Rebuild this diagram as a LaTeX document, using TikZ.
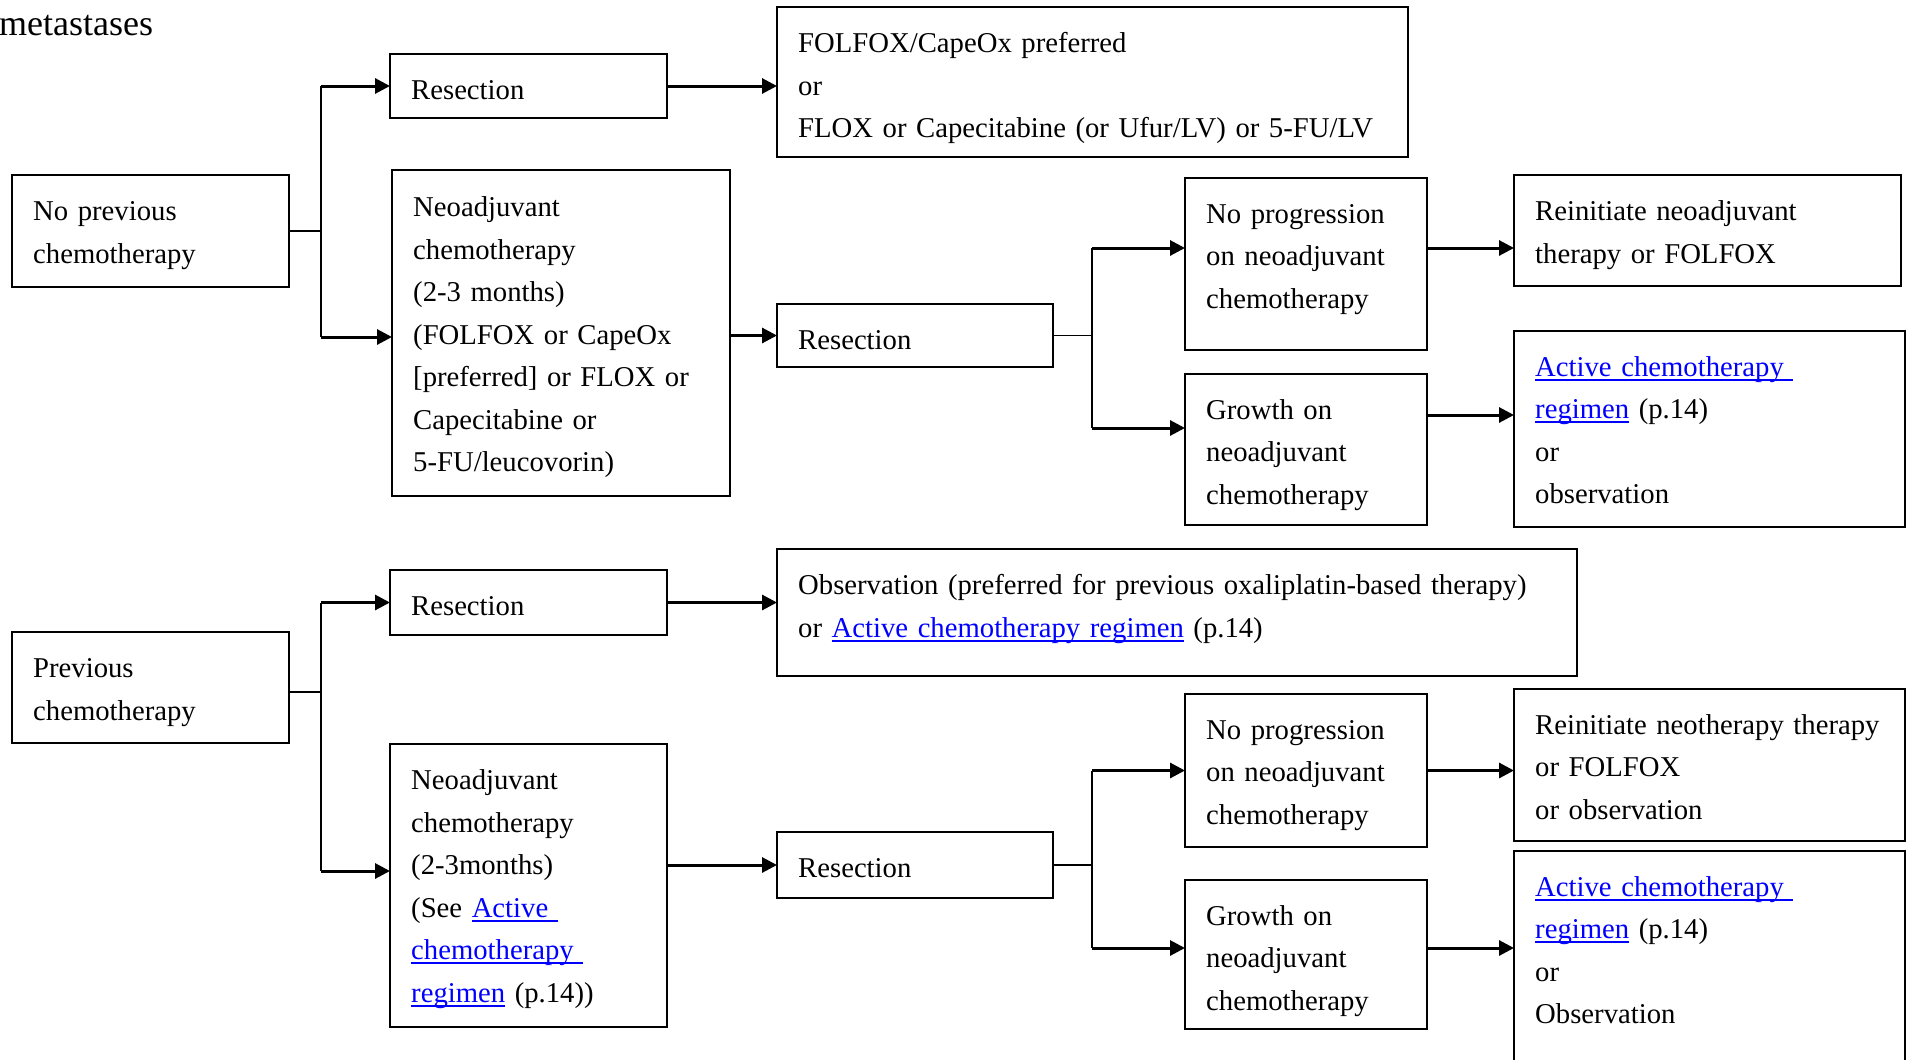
\documentclass[tikz,border=0pt]{standalone}
\usepackage{fontspec}
\setmainfont{Liberation Serif}
\usetikzlibrary{arrows.meta,fit,calc}
\definecolor{linkblue}{RGB}{0,0,255}
% blue underlined cross-reference text
\newlength\lnkwd
\newcommand\lnk[1]{\mbox{\settowidth\lnkwd{#1}\textcolor{linkblue}{\rlap{\rule[-4.5pt]{\lnkwd}{1.8pt}}#1}}}
\begin{document}
\begin{tikzpicture}[x=1pt,y=-1pt,
  box/.style={draw,line width=2pt,inner sep=0pt,outer sep=0pt},
  txt/.style={anchor=base west,inner sep=0pt,text width=760pt,align=left,
              font=\fontsize{28.7}{42.5}\selectfont},
  arr/.style={line width=3pt,-{Triangle[length=15pt,width=15pt]}},
  trunk/.style={line width=2pt},
  stub/.style={line width=1.6pt}]
\useasboundingbox (0,0) rectangle (1907,1060);

\node[anchor=base west,inner sep=0pt,font=\fontsize{36}{42}\selectfont] (ttl) at (-1,35) {metastases};

% ---------- no previous chemotherapy ----------
\node[box,fit={(12,175) (289,287)}] (np) {};
\node[txt] (npt) at ($(np.north west)+(21,45.5)$) {No previous\\chemotherapy};

\node[box,fit={(390,54) (667,118)}] (rs1) {};
\node[txt] (rs1t) at ($(rs1.north west)+(21,45)$) {Resection};

\node[box,fit={(777,7) (1408,157)}] (fx) {};
\node[txt] (fxt) at ($(fx.north west)+(21,45.5)$) {FOLFOX/CapeOx preferred\\or\\FLOX or Capecitabine (or Ufur/LV) or 5-FU/LV};

\node[box,fit={(392,170) (730,496)}] (na1) {};
\node[txt] (na1t) at ($(na1.north west)+(21,46.5)$) {Neoadjuvant\\chemotherapy\\(2-3 months)\\(FOLFOX or CapeOx\\{[preferred]} or FLOX or\\Capecitabine or\\5-FU/leucovorin)};

\node[box,fit={(777,304) (1053,367)}] (rs2) {};
\node[txt] (rs2t) at ($(rs2.north west)+(21,45.5)$) {Resection};

\node[box,fit={(1185,178) (1427,350)}] (np1) {};
\node[txt] (np1t) at ($(np1.north west)+(21,45)$) {No progression\\on neoadjuvant\\chemotherapy};

\node[box,fit={(1185,374) (1427,525)}] (gr1) {};
\node[txt] (gr1t) at ($(gr1.north west)+(21,45)$) {Growth on\\neoadjuvant\\chemotherapy};

\node[box,fit={(1514,175) (1901,286)}] (ri1) {};
\node[txt] (ri1t) at ($(ri1.north west)+(21,45.5)$) {Reinitiate neoadjuvant\\therapy or FOLFOX};

\node[box,fit={(1514,331) (1905,527)}] (ac1) {};
\node[txt] (ac1t) at ($(ac1.north west)+(21,45)$) {\lnk{Active chemotherapy\ }\\\lnk{regimen} (p.14)\\or\\observation};

% ---------- previous chemotherapy ----------
\node[box,fit={(12,632) (289,743)}] (pc) {};
\node[txt] (pct) at ($(pc.north west)+(21,45.5)$) {Previous\\chemotherapy};

\node[box,fit={(390,570) (667,635)}] (rs3) {};
\node[txt] (rs3t) at ($(rs3.north west)+(21,45)$) {Resection};

\node[box,fit={(777,549) (1577,676)}] (ob) {};
\node[txt] (obt) at ($(ob.north west)+(21,45.5)$) {Observation (preferred for previous oxaliplatin-based therapy)\\or \lnk{Active chemotherapy regimen} (p.14)};

\node[box,fit={(390,744) (667,1027)}] (na2) {};
\node[txt] (na2t) at ($(na2.north west)+(21,45.5)$) {Neoadjuvant\\chemotherapy\\(2-3months)\\(See \lnk{Active\ }\\\lnk{chemotherapy\ }\\\lnk{regimen} (p.14))};

\node[box,fit={(777,832) (1053,898)}] (rs4) {};
\node[txt] (rs4t) at ($(rs4.north west)+(21,45.5)$) {Resection};

\node[box,fit={(1185,694) (1427,847)}] (np2) {};
\node[txt] (np2t) at ($(np2.north west)+(21,45)$) {No progression\\on neoadjuvant\\chemotherapy};

\node[box,fit={(1185,880) (1427,1029)}] (gr2) {};
\node[txt] (gr2t) at ($(gr2.north west)+(21,45)$) {Growth on\\neoadjuvant\\chemotherapy};

\node[box,fit={(1514,689) (1905,841)}] (ri2) {};
\node[txt] (ri2t) at ($(ri2.north west)+(21,45)$) {Reinitiate neotherapy therapy\\or FOLFOX\\or observation};

\node[box,fit={(1514,851) (1905,1080)}] (ac2) {};
\node[txt] (ac2t) at ($(ac2.north west)+(21,45)$) {\lnk{Active chemotherapy\ }\\\lnk{regimen} (p.14)\\or\\Observation};

% ---------- branch points and entry points ----------
\coordinate (ja) at (321,231);
\coordinate (na1in) at ($(na1.north west)+(0,167)$);
\coordinate (jb) at (1092,336);
\coordinate (np1in) at ($(np1.north west)+(0,70)$);
\coordinate (gr1in) at ($(gr1.north west)+(0,54)$);
\coordinate (gr1out) at ($(gr1.north east)+(0,41)$);
\coordinate (pcout) at ($(pc.north east)+(0,60)$);
\coordinate (jc) at (321,692);
\coordinate (na2in) at ($(na2.north west)+(0,127)$);
\coordinate (jd) at (1092,866);
\coordinate (gr2in) at ($(gr2.north west)+(0,68)$);

% ---------- connectors, upper tree ----------
\draw[stub] (np.east) -- (ja);
\draw[trunk] (ja |- rs1.west) -- (ja |- na1in);
\draw[arr] (ja |- rs1.west) -- (rs1.west);
\draw[arr] (ja |- na1in) -- (na1in);
\draw[arr] (rs1.east) -- (rs1.east -| fx.west);
\draw[arr] (rs2.west -| na1.east) -- (rs2.west);
\draw[stub] (rs2.east) -- (rs2.east -| jb);
\draw[trunk] (jb |- np1in) -- (jb |- gr1in);
\draw[arr] (jb |- np1in) -- (np1in);
\draw[arr] (jb |- gr1in) -- (gr1in);
\draw[arr] (np1in -| np1.east) -- (np1in -| ri1.west);
\draw[arr] (gr1out) -- (gr1out -| ac1.west);

% ---------- connectors, lower tree ----------
\draw[stub] (pcout) -- (jc);
\draw[trunk] (jc |- rs3.west) -- (jc |- na2in);
\draw[arr] (jc |- rs3.west) -- (rs3.west);
\draw[arr] (jc |- na2in) -- (na2in);
\draw[arr] (rs3.east) -- (rs3.east -| ob.west);
\draw[arr] (rs4.west -| na2.east) -- (rs4.west);
\draw[stub] (rs4.east) -- (rs4.east -| jd);
\draw[trunk] (jd |- np2.west) -- (jd |- gr2in);
\draw[arr] (jd |- np2.west) -- (np2.west);
\draw[arr] (jd |- gr2in) -- (gr2in);
\draw[arr] (np2.east) -- (np2.east -| ri2.west);
\draw[arr] (gr2in -| gr2.east) -- (gr2in -| ac2.west);
\end{tikzpicture}
\end{document}
